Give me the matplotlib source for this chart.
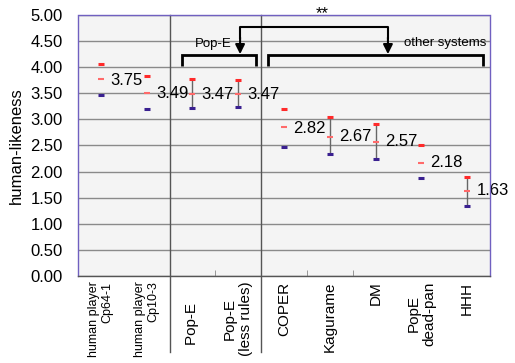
import matplotlib
matplotlib.use("Agg")
import matplotlib.pyplot as plt
import matplotlib.transforms as mtransforms

plt.rcParams['font.family'] = ['Liberation Sans', 'DejaVu Sans']

categories = ["human player\nCp64-1", "human player\nCp10-3", "Pop-E", "Pop-E\n(less rules)",
              "COPER", "Kagurame", "DM", "PopE\ndead-pan", "HHH"]
means = [3.75, 3.49, 3.47, 3.47, 2.82, 2.67, 2.57, 2.18, 1.63]
mean_marks = [3.77, 3.51, 3.49, 3.49, 2.85, 2.67, 2.57, 2.17, 1.63]
upper = [4.06, 3.83, 3.77, 3.75, 3.19, 3.04, 2.92, 2.50, 1.90]
lower = [3.46, 3.19, 3.21, 3.23, 2.48, 2.33, 2.25, 1.88, 1.35]
connected = [False, False, True, True, False, True, True, False, True]
yticks = [0.0, 0.5, 1.0, 1.5, 2.0, 2.5, 3.0, 3.5, 4.0, 4.5, 5.0]

fig = plt.figure(figsize=(5.15, 3.63), dpi=100)
ax = fig.add_axes([0.1515, 0.2397, 0.80, 0.719])
ax.set_facecolor('#f4f4f4')
x = list(range(len(categories)))
ax.set_xlim(-0.5, len(categories) - 0.5)
ax.set_ylim(0, 5)

for yv in yticks:
    ax.axhline(yv, color='#8a8a8a', lw=1, zorder=1)

for i in x:
    if connected[i]:
        ax.plot([i, i], [lower[i], upper[i]], color='#666666', lw=1, zorder=2)
ax.plot(x, upper, ls='none', marker='_', ms=4.5, mew=2.2, color='#ff2a2a', zorder=3)
ax.plot(x, lower, ls='none', marker='_', ms=4.5, mew=2.2, color='#3a2090', zorder=3)
ax.plot(x, mean_marks, ls='none', marker='_', ms=4, mew=1.5, color='#ff6a6a', zorder=4)
for i in x:
    ax.text(i + 0.2, means[i], f"{means[i]:.2f}", fontsize=12, va='center', ha='left',
            color='black', zorder=5, clip_on=False)

# separators
trans = mtransforms.blended_transform_factory(ax.transData, ax.transAxes)
for sx in [1.5, 3.5]:
    ax.plot([sx, sx], [-0.29, 1.0], color='#555555', lw=1, transform=trans, clip_on=False, zorder=2)

# brackets
bk = dict(color='black', lw=2, zorder=6, solid_capstyle='butt', solid_joinstyle='miter')
ax.plot([1.77, 1.77, 3.39, 3.39], [4.02, 4.23, 4.23, 4.02], **bk)
ax.plot([3.65, 3.65, 8.35, 8.35], [4.02, 4.23, 4.23, 4.02], **bk)
ax.plot([3.04, 3.04, 6.27, 6.27], [4.55, 4.77, 4.77, 4.55], color='black', lw=1.5, zorder=6)
for ax_x in [3.04, 6.27]:
    ax.annotate('', xy=(ax_x, 4.25), xytext=(ax_x, 4.57),
                arrowprops=dict(arrowstyle='-|>', color='black', lw=1.5, mutation_scale=14,
                                shrinkA=0, shrinkB=0), zorder=7)
ax.text(2.86, 4.44, "Pop-E", fontsize=9.5, ha='right', va='center', zorder=7)
ax.text(8.41, 4.46, "other systems", fontsize=9.5, ha='right', va='center', zorder=7, clip_on=False)
ax.text(4.83, 5.03, "**", fontsize=12, ha='center', va='center', zorder=9, clip_on=False)

ax.set_yticks(yticks)
ax.set_yticklabels([f"{v:.2f}" for v in yticks], fontsize=12)
ax.tick_params(axis='y', length=0, pad=11)
ax.set_xticks(x)
ax.set_xticklabels([("Pop-E     " if i == 2 else c) for i, c in enumerate(categories)], rotation=90)
ax.tick_params(axis='x', length=0, pad=4)
for i, lab in enumerate(ax.get_xticklabels()):
    if i < 2:
        lab.set_fontsize(9)
        lab.set_multialignment('right')
    else:
        lab.set_fontsize(11)
        lab.set_multialignment('center')

ax.set_xticks([2.5, 4.5, 5.5], minor=True)
ax.tick_params(axis='x', which='minor', direction='in', length=4, color='#888888')

ax.set_ylabel("human-likeness", fontsize=12, labelpad=5)

for s in ['top', 'left', 'right']:
    ax.spines[s].set_linestyle((0, (1, 1)))
    ax.spines[s].set_color('#7060c0')
    ax.spines[s].set_linewidth(1)
ax.spines['bottom'].set_color('#555555')
ax.spines['bottom'].set_linewidth(1)
for s in ax.spines.values():
    s.set_zorder(8)

fig.savefig("out.png", dpi=100, facecolor='white')
